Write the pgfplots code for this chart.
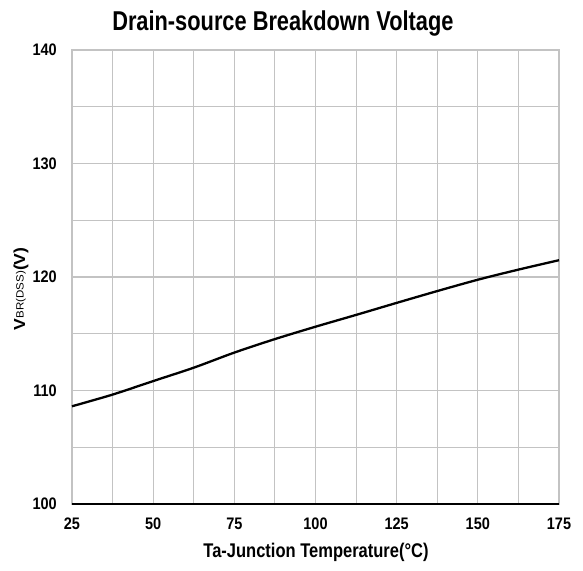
\documentclass[border=0pt]{standalone}
\usepackage{pgfplots}
\pgfplotsset{compat=1.18}
\usepackage{fontspec}
\setmainfont{Liberation Sans}
\definecolor{gridgray}{RGB}{195,195,195}
\begin{document}
\begin{tikzpicture}
\begin{axis}[
  scale only axis,
  width=487pt, height=454pt,
  xmin=25, xmax=175, ymin=100, ymax=140,
  xtick={25,50,...,175},
  minor xtick={37.5,62.5,87.5,112.5,137.5,162.5},
  ytick={100,110,...,140},
  minor ytick={105,115,125,135},
  grid=both,
  major grid style={gridgray, line width=1.1pt},
  minor grid style={gridgray, line width=1.1pt},
  axis line style={gridgray, line width=1.1pt},
  major tick length=0pt, minor tick length=0pt,
  xticklabel={\scalebox{1}[1.15]{\fontsize{14.5}{15}\selectfont\bfseries\pgfmathprintnumber[assume math mode=true]{\tick}}},
  yticklabel={\scalebox{1}[1.15]{\fontsize{14.5}{15}\selectfont\bfseries\pgfmathprintnumber[assume math mode=true]{\tick}}},
  xticklabel style={anchor=center, inner sep=0pt, yshift=-20pt},
  yticklabel style={anchor=east, inner sep=0pt, xshift=-15pt},
  title={\scalebox{1}[1.25]{\fontsize{21.8}{22}\selectfont\bfseries Drain-source Breakdown Voltage}},
  title style={at={(axis description cs:0.433,1)}, anchor=center, yshift=20pt, inner sep=0pt},
  xlabel={\scalebox{1}[1.2]{\fontsize{16.5}{17}\selectfont\bfseries Ta-Junction Temperature(°C)}},
  xlabel style={at={(axis description cs:0.501,0)}, anchor=center, yshift=-48pt, inner sep=0pt},
  ylabel={\scalebox{1.1}[1]{\fontsize{16}{16}\selectfont\bfseries V\raisebox{1.5pt}{\normalfont\fontsize{10.5}{10.5}\selectfont BR(DSS)}(V)}},
  ylabel style={at={(axis description cs:-0.105,0.474)}, anchor=center, inner sep=0pt},
  clip=false,
]
\addplot[black, line width=2.3pt, smooth] coordinates {
(25,108.61) (37.5,109.64) (50,110.83) (62.5,112.01) (75,113.34) (87.5,114.53)
(100,115.62) (112.5,116.66) (125,117.72) (137.5,118.76) (150,119.76) (162.5,120.65) (175,121.48)
};
\draw[black, line width=1.3pt] (axis cs:25,100) -- (axis cs:175,100);
\end{axis}
\pgfresetboundingbox
\useasboundingbox (-72pt,-66pt) rectangle (511pt,504pt);
\end{tikzpicture}
\end{document}
